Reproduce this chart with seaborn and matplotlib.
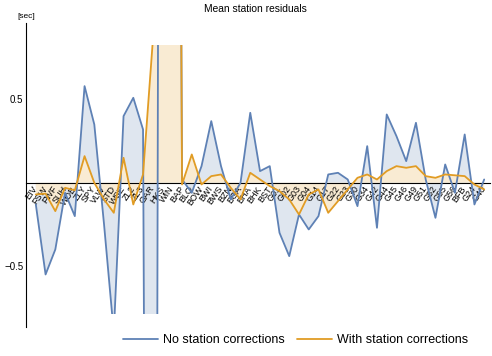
import numpy as np
import pandas as pd
import seaborn as sns
import matplotlib.pyplot as plt
from matplotlib.patches import Rectangle

stations = ['EIV', 'FSW', 'FWF', 'SUH', 'WDB', 'ZLY', 'SPY', 'VLW', 'STD', 'WSE', 'ZL2',
            'ZL3', 'GAR', 'HKS', 'WIN', 'BAP', 'BLO', 'BOW', 'BWI', 'BWS', 'BZN', 'BGA',
            'BHA', 'BHK', 'BST', 'G01', 'G02', 'G03', 'G04', 'G14', 'G17', 'G22', 'G23',
            'G30', 'G34', 'G42', 'G44', 'G45', 'G46', 'G49', 'G51', 'G52', 'G55', 'G56',
            'BFB', 'G24', 'G40']

no_corr = [-0.13, -0.55, -0.40, -0.06, -0.20, 0.58, 0.35, -0.25, -0.90, 0.40, 0.51,
           0.32, -12.0, 12.0, 12.0, 0.02, -0.06, 0.10, 0.37, 0.10, -0.10, 0.0,
           0.42, 0.07, 0.10, -0.30, -0.44, -0.19, -0.28, -0.20, 0.05, 0.06, 0.02,
           -0.14, 0.22, -0.27, 0.41, 0.28, 0.13, 0.36, 0.02, -0.21, 0.11, -0.06,
           0.29, -0.13, 0.02]

with_corr = [-0.07, -0.065, -0.17, -0.03, -0.045, 0.16, 0.0, -0.10, -0.18, 0.15, -0.13,
             0.05, 0.85, 12.0, 12.0, -0.01, 0.17, -0.01, 0.04, 0.05, -0.03, -0.10,
             0.06, 0.02, -0.02, -0.05, -0.10, -0.19, -0.07, -0.04, -0.18, -0.11, -0.04,
             0.03, 0.05, 0.02, 0.07, 0.10, 0.09, 0.10, 0.04, 0.03, 0.05, 0.045,
             0.04, -0.01, -0.04]

series = ['No station corrections', 'With station corrections']
colors = {'No station corrections': '#5e81b5', 'With station corrections': '#e19c24'}
fills = {'No station corrections': '#dfe6ef', 'With station corrections': '#f9ebd3'}

x = np.arange(len(stations))
df = pd.DataFrame({
    'idx': np.concatenate([x, x]),
    'value': no_corr + with_corr,
    'series': [series[0]] * len(x) + [series[1]] * len(x),
})

sns.set_style('white')
plt.rcParams['font.family'] = ['Liberation Sans', 'DejaVu Sans']
plt.rcParams['text.color'] = 'black'
plt.rcParams['xtick.color'] = 'black'
plt.rcParams['ytick.color'] = 'black'

fig = plt.figure(figsize=(4.92, 3.56), dpi=100)
ax = fig.add_axes([0.053, 0.082, 0.943, 0.854])
ax.set_axisbelow(False)

# fill to the axis, orange on top
for name, vals in [(series[0], no_corr), (series[1], with_corr)]:
    ax.fill_between(x, vals, 0, color=fills[name], linewidth=0, zorder=1)

sns.lineplot(data=df, x='idx', y='value', hue='series', palette=colors, ax=ax,
             linewidth=1.3, legend=False, sort=False, zorder=3)

ax.set_xlim(-1, 46.6)
ax.set_ylim(-0.864, 0.96)

clip = Rectangle((-1, -0.79), 47.6, 1.616, transform=ax.transData)
for art in ax.lines + ax.collections:
    art.set_clip_path(clip)

# Mathematica-like axes
for s in ['top', 'right']:
    ax.spines[s].set_visible(False)
ax.spines['bottom'].set_position(('data', 0))
for s in ['left', 'bottom']:
    ax.spines[s].set_color('black')
    ax.spines[s].set_linewidth(0.8)

ax.set_xticks(x)
ax.set_xticklabels(stations, rotation=55, ha='right', va='center',
                   rotation_mode='anchor', fontsize=6.5)
ax.tick_params(axis='x', direction='in', length=3, width=0.7, pad=3)

ax.set_yticks([-0.5, 0.5])
ax.set_yticklabels(['\u22120.5', '0.5'], fontsize=7)
ax.set_yticks(np.arange(-0.8, 0.95, 0.1), minor=True)
ax.tick_params(axis='y', which='major', direction='in', length=4, width=0.7, pad=2)
ax.tick_params(axis='y', which='minor', direction='in', length=2.5, width=0.6)
ax.set_xlabel('')
ax.set_ylabel('')
ax.grid(False)

ax.text(0, 1.01, '[sec]', transform=ax.transAxes, ha='center', va='bottom', fontsize=6)
fig.text(0.52, 0.974, 'Mean station residuals', ha='center', va='center', fontsize=7.4)

handles = [plt.Line2D([], [], color=colors[s], linewidth=1.3) for s in series]
fig.legend(handles, series, loc='center', bbox_to_anchor=(0.6, 0.045), ncol=2,
           frameon=False, fontsize=9, handlelength=2.8, handletextpad=0.4,
           columnspacing=1.0)

fig.savefig('out.png', dpi=100)
